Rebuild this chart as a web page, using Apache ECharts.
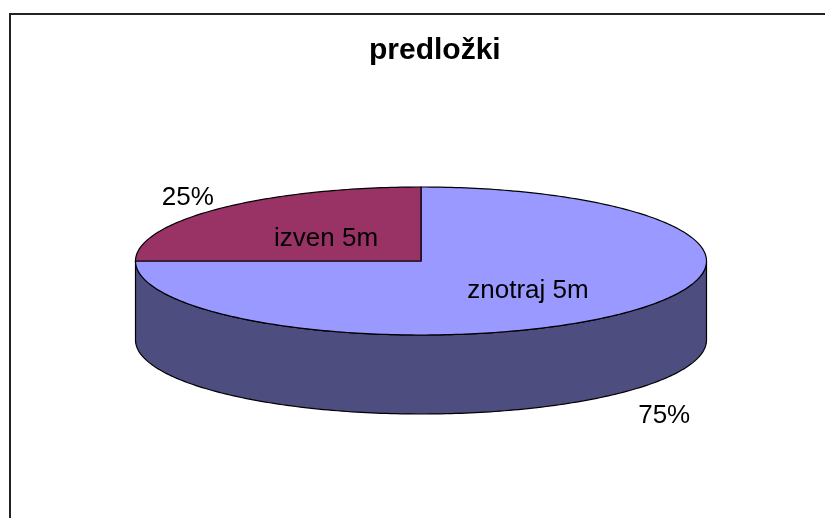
<!DOCTYPE html>
<html>
<head>
	<meta charset="utf-8">
	<title>predložki</title>
	<script src="https://cdn.jsdelivr.net/npm/echarts@6/dist/echarts.min.js"></script>
	<style>
		html, body { margin: 0; padding: 0; background: #fff; }
		#chart { width: 825px; height: 518px; }
	</style>
</head>
<body>
<div id="chart"></div>
<script>
	// podatki
	var categories = ['znotraj 5m', 'izven 5m'];
	var values = [75, 25];
	var topColors = ['#9999FF', '#993366'];
	var sideColors = ['#4D4D80', '#4D1A33'];

	var total = values.reduce(function (a, b) { return a + b; }, 0);

	var myChart = echarts.init(document.getElementById('chart'));

	function renderSlice(params, api) {
		var W = api.getWidth(), H = api.getHeight();
		var cx = W * 421 / 825, cy = H * 261 / 518;
		var rx = W * 285.5 / 825, ry = H * 74 / 518;
		var depth = H * 79 / 518;
		var i = params.dataIndex;

		// kot v smeri urinega kazalca od 12. ure
		var before = 0;
		for (var k = 0; k < i; k++) before += values[k];
		var start = before / total * Math.PI * 2;
		var end = (before + api.value(0)) / total * Math.PI * 2;

		function pt(t, dy) {
			return [cx + rx * Math.sin(t), cy - ry * Math.cos(t) + (dy || 0)];
		}
		function arc(a, b, dy) {
			var pts = [];
			var n = Math.max(2, Math.ceil((b - a) / (Math.PI / 180)));
			for (var j = 0; j <= n; j++) pts.push(pt(a + (b - a) * j / n, dy));
			return pts;
		}

		var children = [];

		// stranska ploskev (vidna le spredaj)
		var a = Math.max(start, Math.PI / 2), b = Math.min(end, Math.PI * 1.5);
		if (a < b) {
			var side = arc(a, b, 0).concat(arc(a, b, depth).reverse());
			children.push({
				type: 'polygon',
				z2: 1,
				shape: { points: side },
				style: { fill: sideColors[i], stroke: '#000', lineWidth: 1.2 }
			});
		}

		// zgornja ploskev
		var top = [[cx, cy]].concat(arc(start, end, 0));
		children.push({
			type: 'polygon',
			z2: 5,
			shape: { points: top },
			style: { fill: topColors[i], stroke: '#000', lineWidth: 1.2 }
		});

		var mid = (start + end) / 2;
		var font = '26px "Liberation Sans", Arial, sans-serif';
		// ime kategorije
		children.push({
			type: 'text',
			z2: 10,
			style: {
				text: categories[i],
				x: cx + rx * 0.5 * Math.sin(mid) + 6,
				y: cy - ry * 0.5 * Math.cos(mid) + 4,
				fill: '#000', font: font, align: 'center', verticalAlign: 'middle'
			}
		});
		// odstotek
		var front = Math.cos(mid) < 0;
		children.push({
			type: 'text',
			z2: 10,
			style: {
				text: Math.round(api.value(0) / total * 100) + '%',
				x: cx + rx * 1.18 * Math.sin(mid) + 5,
				y: cy - ry * 1.2 * Math.cos(mid) + (front ? depth + 13 : 0),
				fill: '#000', font: font, align: 'center', verticalAlign: 'middle'
			}
		});

		return { type: 'group', children: children };
	}

	var option = {
		backgroundColor: '#fff',
		animation: false,
		title: {
			text: 'predložki',
			left: 369,
			top: 36,
			padding: 0,
			textStyle: {
				fontFamily: '"Liberation Sans", Arial, sans-serif',
				fontSize: 30,
				fontWeight: 'bold',
				color: '#000'
			}
		},
		graphic: [{
			type: 'rect',
			shape: { x: 10, y: 14, width: 840, height: 540 },
			style: { fill: 'none', stroke: '#222', lineWidth: 2 },
			silent: true
		}],
		series: [{
			type: 'custom',
			coordinateSystem: 'none',
			silent: true,
			renderItem: renderSlice,
			data: values.map(function (v) { return [v]; })
		}]
	};

	option && myChart.setOption(option);
</script>
</body>
</html>
